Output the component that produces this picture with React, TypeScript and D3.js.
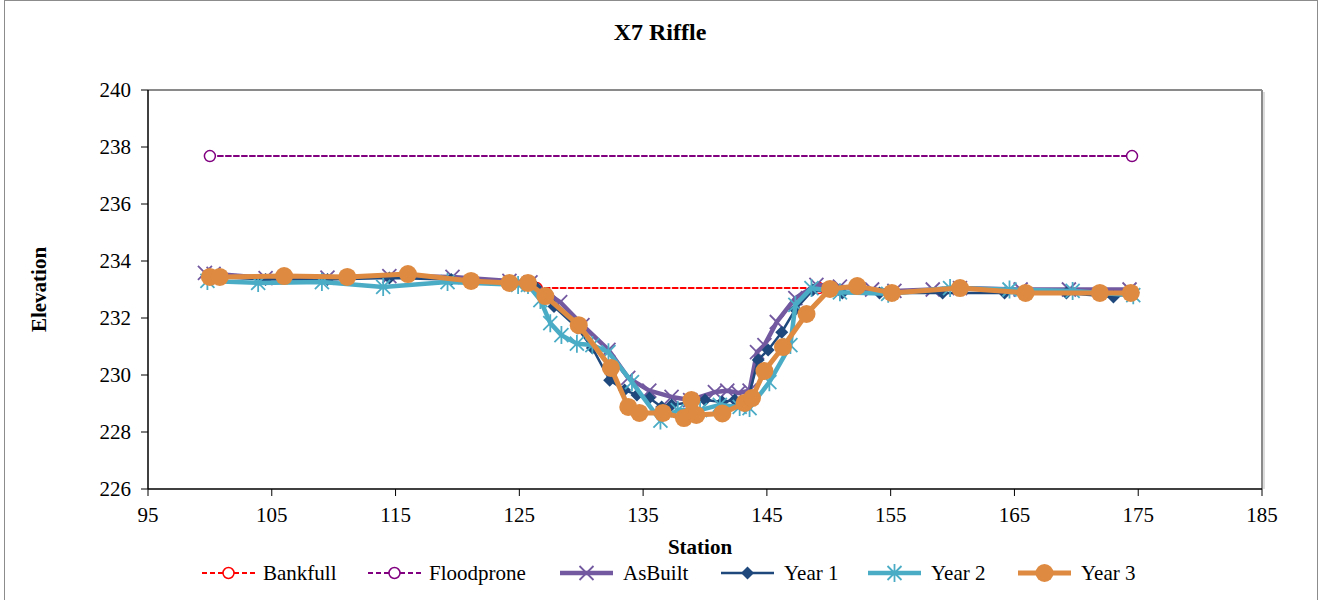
import React from "react";
import * as d3 from "d3";

type P = [number, number];

const xTicks = [95, 105, 115, 125, 135, 145, 155, 165, 175, 185];
const yTicks = [226, 228, 230, 232, 234, 236, 238, 240];

const bankfull: P[] = [[126.4, 233.05], [149.2, 233.05]];
const floodprone: P[] = [[100.0, 237.68], [174.5, 237.68]];

const asBuilt: P[] = [
  [99.6, 233.58], [100.3, 233.55], [104.5, 233.4], [109.5, 233.42], [114.5, 233.47],
  [119.6, 233.44], [124.2, 233.3], [125.9, 233.25], [128.3, 232.56], [130.1, 231.75],
  [132.2, 230.88], [133.8, 229.9], [135.5, 229.45], [137.3, 229.23], [138.8, 229.12],
  [140.8, 229.4], [141.8, 229.45], [142.7, 229.37], [143.6, 229.45], [144.2, 230.8],
  [144.8, 231.05], [145.8, 231.86], [147.3, 232.7], [149.0, 233.16], [150.9, 233.1],
  [153.5, 233.0], [155.3, 232.95], [158.4, 233.0], [160.6, 233.05], [165.5, 233.0],
  [169.4, 233.0], [174.3, 233.0],
];

const year1: P[] = [
  [100.0, 233.45], [104.5, 233.35], [109.5, 233.35], [114.5, 233.4], [119.5, 233.35],
  [124.5, 233.25], [126.3, 233.1], [127.8, 232.4], [129.7, 231.65], [130.9, 230.95],
  [132.3, 229.82], [133.5, 229.47], [134.5, 229.3], [135.5, 229.19], [136.5, 228.88],
  [137.3, 228.95], [140.0, 229.12], [141.4, 229.05], [142.4, 229.12], [143.5, 229.2],
  [144.3, 230.53], [145.1, 230.88], [146.2, 231.5], [147.3, 232.3], [148.7, 232.98],
  [151.1, 232.88], [154.1, 232.88], [159.2, 232.88], [164.2, 232.88], [169.2, 232.88],
  [173.0, 232.74], [174.6, 232.9],
];

const year2: P[] = [
  [99.8, 233.3], [103.9, 233.23], [109.05, 233.26], [114.0, 233.09], [119.2, 233.26],
  [124.9, 233.16], [125.7, 233.16], [126.7, 232.63], [127.5, 231.82], [128.4, 231.4],
  [129.65, 231.1], [130.9, 231.05], [132.2, 230.8], [134.1, 229.75], [136.4, 228.4],
  [137.8, 228.77], [139.6, 228.77], [141.2, 228.95], [142.8, 228.88], [143.6, 228.84],
  [145.2, 229.75], [146.9, 231.05], [147.3, 232.46], [148.6, 233.05], [150.9, 232.9],
  [154.8, 232.85], [159.8, 233.05], [164.6, 233.0], [169.7, 232.95], [174.6, 232.8],
];

const year3: P[] = [
  [100.0, 233.44], [100.8, 233.44], [106.0, 233.47], [111.1, 233.44], [116.0, 233.54],
  [121.1, 233.3], [124.2, 233.23], [125.7, 233.23], [127.1, 232.77], [129.8, 231.75],
  [132.4, 230.25], [133.8, 228.88], [134.7, 228.67], [136.6, 228.67], [138.3, 228.49],
  [138.9, 229.12], [139.3, 228.6], [141.4, 228.65], [143.2, 229.02], [143.8, 229.19],
  [144.8, 230.14], [146.3, 230.98], [148.2, 232.14], [150.1, 233.02], [152.3, 233.12],
  [155.1, 232.88], [160.6, 233.05], [165.9, 232.88], [171.9, 232.88], [174.4, 232.88],
];

const C_BANK = "#FF0000";
const C_FLOOD = "#800080";
const C_AS = "#7359A0";
const C_Y1 = "#1F497D";
const C_Y2 = "#4BACC6";
const C_Y3 = "#DE8A40";

const W = 1322;
const H = 600;
const L = 148, R = 1262, T = 90, B = 489;
const FONT = "'Liberation Serif', 'Times New Roman', serif";

const x = d3.scaleLinear().domain([95, 185]).range([L, R]);
const y = d3.scaleLinear().domain([226, 240]).range([B, T]);
const line = d3.line<P>().x((d) => x(d[0])).y((d) => y(d[1]));

type Kind = "openCircle" | "x" | "diamond" | "asterisk" | "circle";

function Marker({ kind, cx, cy, color }: { kind: Kind; cx: number; cy: number; color: string }) {
  switch (kind) {
    case "openCircle":
      return <circle cx={cx} cy={cy} r={5.5} fill="white" stroke={color} strokeWidth={1.5} />;
    case "x": {
      const s = 7;
      return (
        <path d={`M${cx - s},${cy - s}L${cx + s},${cy + s}M${cx - s},${cy + s}L${cx + s},${cy - s}`}
          stroke={color} strokeWidth={1.8} fill="none" />
      );
    }
    case "diamond": {
      const s = 6.5;
      return <path d={`M${cx},${cy - s}L${cx + s},${cy}L${cx},${cy + s}L${cx - s},${cy}Z`} fill={color} />;
    }
    case "asterisk": {
      const s = 7;
      return (
        <path d={`M${cx - s},${cy - s}L${cx + s},${cy + s}M${cx - s},${cy + s}L${cx + s},${cy - s}M${cx},${cy - s - 2}L${cx},${cy + s + 2}`}
          stroke={color} strokeWidth={1.8} fill="none" />
      );
    }
    case "circle":
      return <circle cx={cx} cy={cy} r={9} fill={color} />;
  }
}

interface Series {
  name: string;
  data: P[];
  color: string;
  width: number;
  dash?: string;
  marker: Kind;
}

const series: Series[] = [
  { name: "Bankfull", data: bankfull, color: C_BANK, width: 2, dash: "5,3", marker: "openCircle" },
  { name: "Floodprone", data: floodprone, color: C_FLOOD, width: 2, dash: "5,3", marker: "openCircle" },
  { name: "AsBuilt", data: asBuilt, color: C_AS, width: 4.5, marker: "x" },
  { name: "Year 1", data: year1, color: C_Y1, width: 2.5, marker: "diamond" },
  { name: "Year 2", data: year2, color: C_Y2, width: 4.5, marker: "asterisk" },
  { name: "Year 3", data: year3, color: C_Y3, width: 5, marker: "circle" },
];

const legendPos = [
  { lx: 202, tx: 263 },
  { lx: 368, tx: 429 },
  { lx: 560, tx: 623 },
  { lx: 721, tx: 784 },
  { lx: 868, tx: 931 },
  { lx: 1018, tx: 1081 },
];

export default function App() {
  return (
    <svg width={W} height={H} style={{ position: "absolute", left: 0, top: 0, background: "white" }}
      fontFamily={FONT}>
      <rect x={0} y={0} width={W} height={H} fill="white" />
      <rect x={4.5} y={0.5} width={1313} height={620} fill="none" stroke="#8c8c8c" strokeWidth={1} />
      <text x={660} y={40} textAnchor="middle" fontWeight="bold" fontSize={24}>X7 Riffle</text>

      <line x1={L} y1={T} x2={R} y2={T} stroke="#8a8a8a" strokeWidth={2} />
      <line x1={R} y1={T} x2={R} y2={B} stroke="#8a8a8a" strokeWidth={2} />
      <line x1={R + 2} y1={T + 2} x2={R + 2} y2={B} stroke="#d0d0d0" strokeWidth={1.5} />
      <line x1={L} y1={T} x2={L} y2={B} stroke="black" strokeWidth={1.5} />
      <line x1={L} y1={B} x2={R} y2={B} stroke="black" strokeWidth={1.5} />

      {yTicks.map((t) => (
        <g key={"y" + t}>
          <line x1={L - 7} x2={L} y1={y(t)} y2={y(t)} stroke="black" strokeWidth={1} />
          <text x={L - 17} y={y(t)} dy="0.35em" textAnchor="end" fontSize={21}>{t}</text>
        </g>
      ))}
      {xTicks.map((t) => (
        <g key={"x" + t}>
          <line x1={x(t)} x2={x(t)} y1={B} y2={B + 7} stroke="black" strokeWidth={1} />
          <text x={x(t)} y={B + 33} textAnchor="middle" fontSize={21}>{t}</text>
        </g>
      ))}

      <text x={700} y={554} textAnchor="middle" fontWeight="bold" fontSize={21}>Station</text>
      <text transform={`translate(46,${(T + B) / 2}) rotate(-90)`} textAnchor="middle" fontWeight="bold" fontSize={21}>Elevation</text>

      {series.map((s) => (
        <g key={s.name}>
          <path d={line(s.data) || ""} fill="none" stroke={s.color} strokeWidth={s.width}
            strokeDasharray={s.dash} strokeLinejoin="round" strokeLinecap="round" />
          {s.data.map((d, i) => (
            <Marker key={i} kind={s.marker} cx={x(d[0])} cy={y(d[1])} color={s.color} />
          ))}
        </g>
      ))}

      {series.map((s, i) => {
        const { lx, tx } = legendPos[i];
        const ly = 573;
        return (
          <g key={"leg" + s.name}>
            <line x1={lx} x2={lx + 53} y1={ly} y2={ly} stroke={s.color} strokeWidth={s.width}
              strokeDasharray={s.dash} />
            <Marker kind={s.marker} cx={lx + 26.5} cy={ly} color={s.color} />
            <text x={tx} y={ly} dy="0.35em" fontSize={21}>{s.name}</text>
          </g>
        );
      })}
    </svg>
  );
}
